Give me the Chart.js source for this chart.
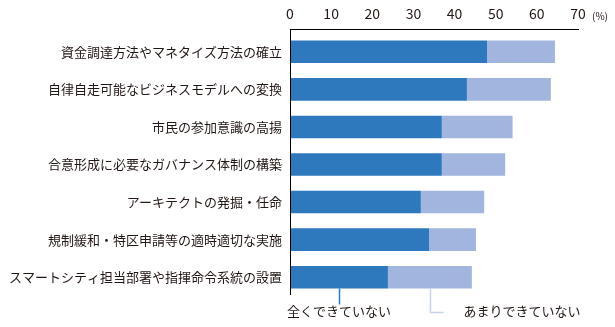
<!DOCTYPE html>
<html>
<head>
<meta charset="utf-8">
<script src="https://cdn.jsdelivr.net/npm/chart.js@4.4.1/dist/chart.umd.min.js"></script>
<style>
  html, body { margin: 0; padding: 0; background: #fff; }
  #wrap { width: 615px; height: 327px; position: relative; }
</style>
</head>
<body>
<div id="wrap"><canvas id="myGrafic"></canvas></div>
<script>
Chart.defaults.font.family = "'Noto Sans CJK JP', 'Noto Sans', sans-serif";
Chart.defaults.color = '#231815';

const categories = [
  '資金調達方法やマネタイズ方法の確立',
  '自律自走可能なビジネスモデルへの変換',
  '市民の参加意識の高揚',
  '合意形成に必要なガバナンス体制の構築',
  'アーキテクトの発掘・任命',
  '規制緩和・特区申請等の適時適切な実施',
  'スマートシティ担当部署や指揮命令系統の設置'
];
const seriesNames = ['全くできていない', 'あまりできていない'];
const notAtAll = [47.9, 43.0, 36.9, 36.9, 31.8, 33.8, 23.8];
const notMuch = [16.5, 20.4, 17.2, 15.4, 15.4, 11.4, 20.4];
const xTicks = [0, 10, 20, 30, 40, 50, 60, 70];

const darkColor = '#2E78BE';
const lightColor = '#A2B5DE';
const leaderLight = '#C9D2EB';

// axis frame, unit label and the leader-line legend under the last bar
const framePlugin = {
  id: 'frame',
  afterDraw(chart) {
    const ctx = chart.ctx;
    const area = chart.chartArea;
    const x = chart.scales.x;
    const top = area.top - 4;
    ctx.save();
    ctx.strokeStyle = '#000';
    ctx.lineWidth = 1;
    ctx.beginPath();
    ctx.moveTo(area.left + 0.5, top + 0.5);
    ctx.lineTo(x.getPixelForValue(70) + 1, top + 0.5);
    ctx.moveTo(area.left + 0.5, top);
    ctx.lineTo(area.left + 0.5, area.bottom - 1);
    ctx.stroke();

    ctx.fillStyle = '#231815';
    ctx.font = "10px 'Noto Sans CJK JP'";
    ctx.textBaseline = 'middle';
    ctx.textAlign = 'left';
    ctx.fillText('(%)', x.getPixelForValue(70) + 14, 16);

    const last = categories.length - 1;
    const d = chart.getDatasetMeta(0).data[last];
    const l = chart.getDatasetMeta(1).data[last];
    const barBottom = d.y + d.height / 2;
    const dx = Math.round((d.base + d.x) / 2) + 0.5;
    const lx = Math.round((l.base + l.x) / 2) + 0.5;

    ctx.lineWidth = 1.5;
    ctx.strokeStyle = darkColor;
    ctx.beginPath();
    ctx.moveTo(dx, barBottom);
    ctx.lineTo(dx, barBottom + 16);
    ctx.stroke();

    ctx.strokeStyle = leaderLight;
    ctx.beginPath();
    ctx.moveTo(lx, barBottom);
    ctx.lineTo(lx, barBottom + 24);
    ctx.lineTo(lx + 13, barBottom + 24);
    ctx.stroke();

    ctx.font = "13px 'Noto Sans CJK JP'";
    ctx.fillStyle = '#231815';
    ctx.fillText(seriesNames[0], area.left - 3, barBottom + 23);
    ctx.fillText(seriesNames[1], lx + 33, barBottom + 23);
    ctx.restore();
  }
};

const mainGrafic = document.getElementById('myGrafic');
const chart = new Chart(mainGrafic, {
  type: 'bar',
  data: {
    labels: categories,
    datasets: [{
      label: seriesNames[0],
      data: notAtAll,
      backgroundColor: darkColor,
      categoryPercentage: 1,
      barPercentage: 0.6,
    }, {
      label: seriesNames[1],
      data: notMuch,
      backgroundColor: lightColor,
      categoryPercentage: 1,
      barPercentage: 0.6,
    }]
  },
  options: {
    indexAxis: 'y',
    responsive: true,
    maintainAspectRatio: false,
    animation: false,
    layout: {
      padding: { top: 0, right: 37, bottom: 31, left: 0 }
    },
    scales: {
      x: {
        position: 'top',
        stacked: true,
        min: 0,
        max: 70,
        afterBuildTicks(scale) {
          scale.ticks = xTicks.map(v => ({ value: v }));
        },
        afterFit(scale) {
          scale.height = 33;
        },
        grid: { display: false },
        border: { display: false },
        ticks: {
          padding: 3,
          font: { size: 14 },
          color: '#231815',
          maxRotation: 0,
        }
      },
      y: {
        stacked: true,
        afterFit(scale) {
          scale.width = 290;
        },
        grid: { display: false },
        border: { display: false },
        ticks: {
          padding: 0,
          font: { size: 13 },
          color: '#231815',
        }
      }
    },
    plugins: {
      legend: { display: false },
      tooltip: { enabled: false },
    }
  },
  plugins: [framePlugin]
});
</script>
</body>
</html>
